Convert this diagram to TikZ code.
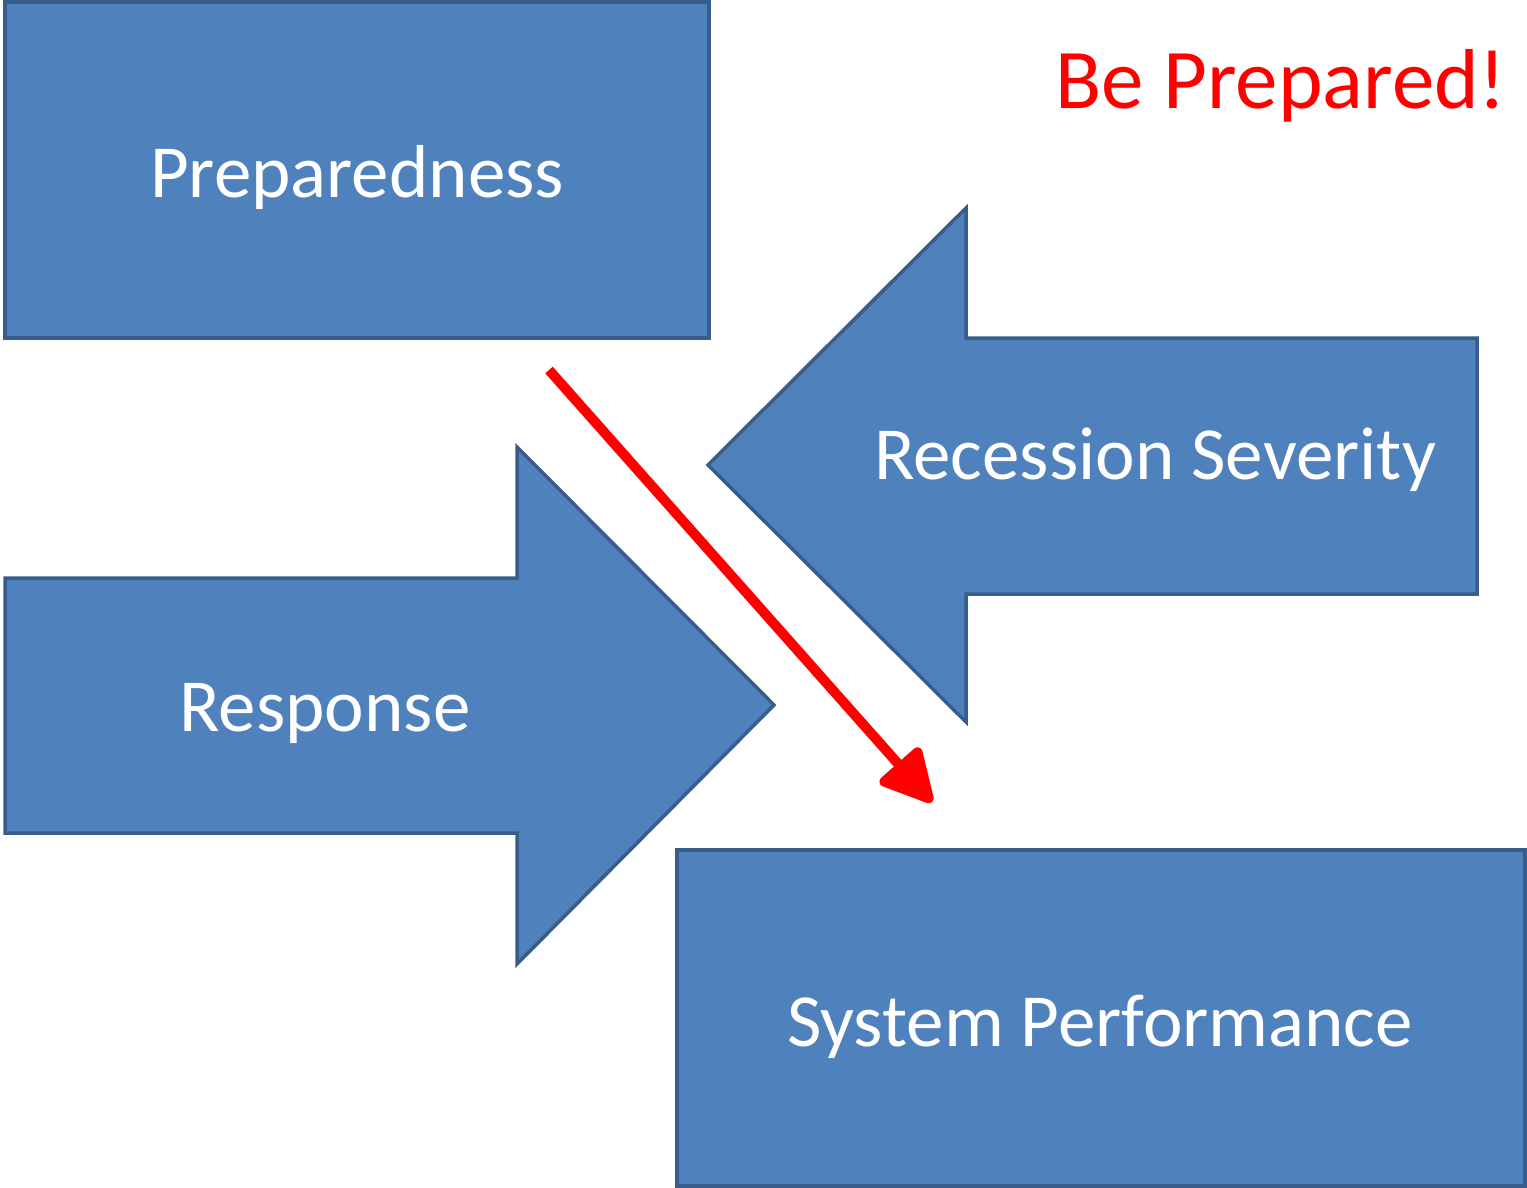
\documentclass[tikz,border=0pt]{standalone}
\usepackage{fontspec}
\setmainfont{Carlito}
\usetikzlibrary{arrows.meta}
\definecolor{boxfill}{HTML}{4F81BD}
\definecolor{boxline}{HTML}{385D8A}
\definecolor{redline}{HTML}{FF0000}
\tikzset{
  shapebox/.style={fill=boxfill, draw=boxline, line width=3.5pt, line join=miter},
  label/.style={text=white, font=\fontsize{75}{80}\selectfont, anchor=base, inner sep=0pt},
  redarrow/.style={draw=redline, line width=10pt, -{Triangle[length=58pt,width=58pt,round]}}
}
\begin{document}
\begin{tikzpicture}[x=1pt,y=-1pt]
\useasboundingbox (0,0) rectangle (1527,1188);
% Preparedness box
\draw[shapebox] (5,2) rectangle (709,338);
% Recession severity arrow (pointing left)
\draw[shapebox] (708,465) -- (966,208) -- (966,338) -- (1477,338) -- (1477,594) -- (966,594) -- (966,722) -- cycle;
% Response arrow (pointing right)
\draw[shapebox] (5,578) -- (517,578) -- (517,447) -- (774,705) -- (517,964) -- (517,833) -- (5,833) -- cycle;
% System performance box
\draw[shapebox] (677,850) rectangle (1525,1186);
% labels
\node[label] (prep) at (357,197) {Preparedness};
\node[label] (rec) at (1155,479) {Recession Severity};
\node[label] (resp) at (325,731) {Response};
\node[label] (sys) at (1100,1046) {System Performance};
\node[text=redline, font=\fontsize{85}{90}\selectfont, anchor=base, inner sep=0pt] (be) at (1281,109) {Be Prepared!};
% red arrow
\coordinate (rs) at (549,370);
\coordinate (re) at (932,802);
\draw[redarrow] (rs) -- (re);
\end{tikzpicture}
\end{document}
